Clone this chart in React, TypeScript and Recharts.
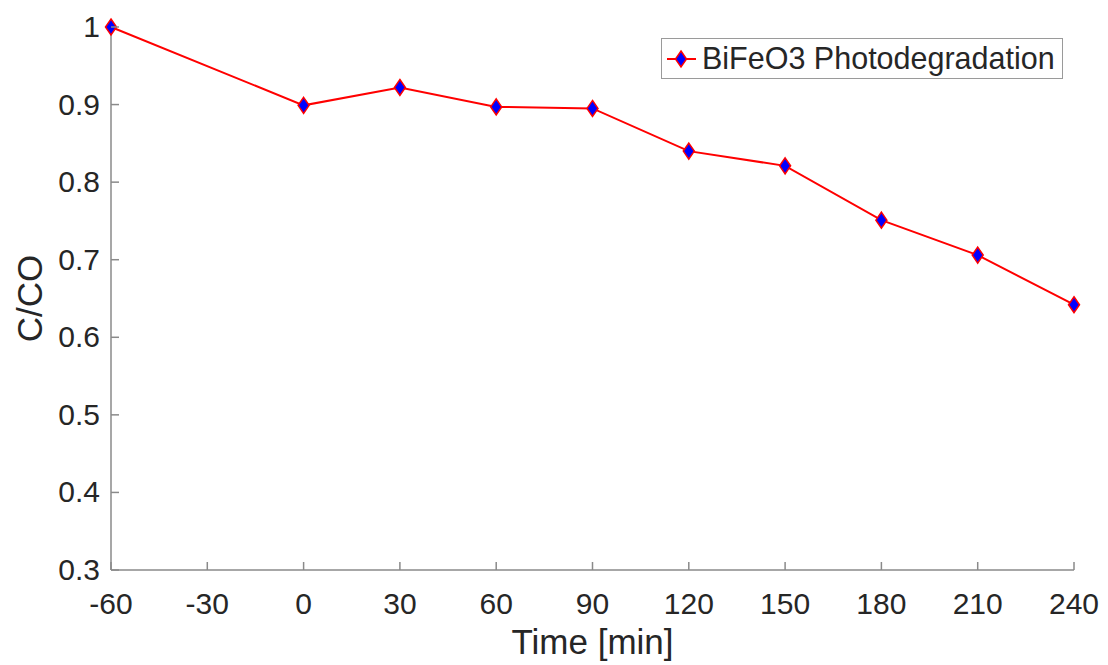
import { LineChart, Line, XAxis, YAxis, Legend, Label } from 'recharts';

// Time in minutes and normalised concentration C/C0
const times = [-60, 0, 30, 60, 90, 120, 150, 180, 210, 240];
const ratio = [1.0, 0.899, 0.922, 0.897, 0.895, 0.84, 0.821, 0.751, 0.706, 0.642];

const xTicks = [-60, -30, 0, 30, 60, 90, 120, 150, 180, 210, 240];
const yTicks = [0.3, 0.4, 0.5, 0.6, 0.7, 0.8, 0.9, 1];

const data = times.map((t, i) => ({ time: t, ratio: ratio[i] }));

const AXIS = '#8a8a8a';
const TEXT = '#262626';
const FONT = '"Liberation Sans", Arial, Helvetica, sans-serif';
const TICK_LEN = 8;

const fmtY = (v: number) => (v === 1 ? '1' : v.toFixed(1));

const BottomTick = (props: any) => {
  const { x, y, payload } = props;
  return (
    <g>
      <line x1={x} y1={y} x2={x} y2={y - TICK_LEN} stroke={AXIS} strokeWidth={1.5} />
      <text x={x} y={y + 44} textAnchor="middle" fill={TEXT} fontSize={30} fontFamily={FONT}>
        {payload.value}
      </text>
    </g>
  );
};

const TopTick = (props: any) => {
  const { x, y } = props;
  return <line x1={x} y1={y} x2={x} y2={y + TICK_LEN} stroke={AXIS} strokeWidth={1.5} />;
};

const LeftTick = (props: any) => {
  const { x, y, payload } = props;
  return (
    <g>
      <line x1={x} y1={y} x2={x + TICK_LEN} y2={y} stroke={AXIS} strokeWidth={1.5} />
      <text x={x - 11} y={y + 10} textAnchor="end" fill={TEXT} fontSize={30} fontFamily={FONT}>
        {fmtY(payload.value)}
      </text>
    </g>
  );
};

const RightTick = (props: any) => {
  const { x, y } = props;
  return <line x1={x} y1={y} x2={x - TICK_LEN} y2={y} stroke={AXIS} strokeWidth={1.5} />;
};

const Diamond = (props: any) => {
  const { cx, cy, index } = props;
  if (cx == null || cy == null) return null;
  return (
    <polygon
      key={`d-${index}`}
      points={`${cx},${cy - 8} ${cx + 5.5},${cy} ${cx},${cy + 8} ${cx - 5.5},${cy}`}
      fill="#0000ff"
      stroke="#ff0000"
      strokeWidth={1.5}
    />
  );
};

const LegendBox = () => (
  <div
    style={{
      width: 402,
      height: 41,
      border: '1.5px solid #9a9a9a',
      background: '#fff',
      display: 'flex',
      alignItems: 'center',
      fontFamily: FONT,
      fontSize: 30.5,
      color: TEXT,
      boxSizing: 'border-box',
      whiteSpace: 'nowrap',
    }}
  >
    <svg width={36} height={30} style={{ marginLeft: 4, flex: 'none' }}>
      <line x1={1} y1={15} x2={30} y2={15} stroke="#ff0000" strokeWidth={2} />
      <polygon points="15,7 20.5,15 15,23 9.5,15" fill="#0000ff" stroke="#ff0000" strokeWidth={1.5} />
    </svg>
    <span>BiFeO3 Photodegradation</span>
  </div>
);

export default function App() {
  return (
    <div style={{ position: 'absolute', left: 0, top: 0, background: '#fff' }}>
      <LineChart width={1108} height={665} data={data} margin={{ top: 27, right: 34, left: 0, bottom: 0 }}>
        <XAxis
          dataKey="time"
          type="number"
          domain={[-60, 240]}
          ticks={xTicks}
          height={95}
          tickLine={false}
          tickSize={0}
          tickMargin={0}
          axisLine={{ stroke: AXIS, strokeWidth: 1.5 }}
          tick={<BottomTick />}
          interval={0}
        >
          <Label
            value="Time [min]"
            position="insideBottom"
            offset={11}
            fill={TEXT}
            fontSize={35}
            fontFamily={FONT}
          />
        </XAxis>
        <XAxis
          xAxisId="top"
          orientation="top"
          dataKey="time"
          type="number"
          domain={[-60, 240]}
          ticks={xTicks}
          height={0}
          tickLine={false}
          tickSize={0}
          tickMargin={0}
          axisLine={{ stroke: AXIS, strokeWidth: 1.5 }}
          tick={<TopTick />}
          interval={0}
        />
        <YAxis
          type="number"
          domain={[0.3, 1]}
          ticks={yTicks}
          width={111}
          tickLine={false}
          tickSize={0}
          tickMargin={0}
          axisLine={{ stroke: AXIS, strokeWidth: 1.5 }}
          tick={<LeftTick />}
          interval={0}
        >
          <Label
            value="C/CO"
            angle={-90}
            position="insideLeft"
            offset={30}
            style={{ textAnchor: 'middle' }}
            fill={TEXT}
            fontSize={35}
            fontFamily={FONT}
          />
        </YAxis>
        <YAxis
          yAxisId="right"
          orientation="right"
          type="number"
          domain={[0.3, 1]}
          ticks={yTicks}
          width={0}
          tickLine={false}
          tickSize={0}
          tickMargin={0}
          axisLine={{ stroke: AXIS, strokeWidth: 1.5 }}
          tick={<RightTick />}
          interval={0}
        />
        <Legend
          layout="vertical"
          align="center"
          verticalAlign="middle"
          content={<LegendBox />}
          wrapperStyle={{ position: 'absolute', left: 661, top: 38, width: 402, height: 41 }}
        />
        <Line
          type="linear"
          dataKey="ratio"
          name="BiFeO3 Photodegradation"
          stroke="#ff0000"
          strokeWidth={2}
          dot={<Diamond />}
          activeDot={false}
          isAnimationActive={false}
        />
      </LineChart>
    </div>
  );
}
